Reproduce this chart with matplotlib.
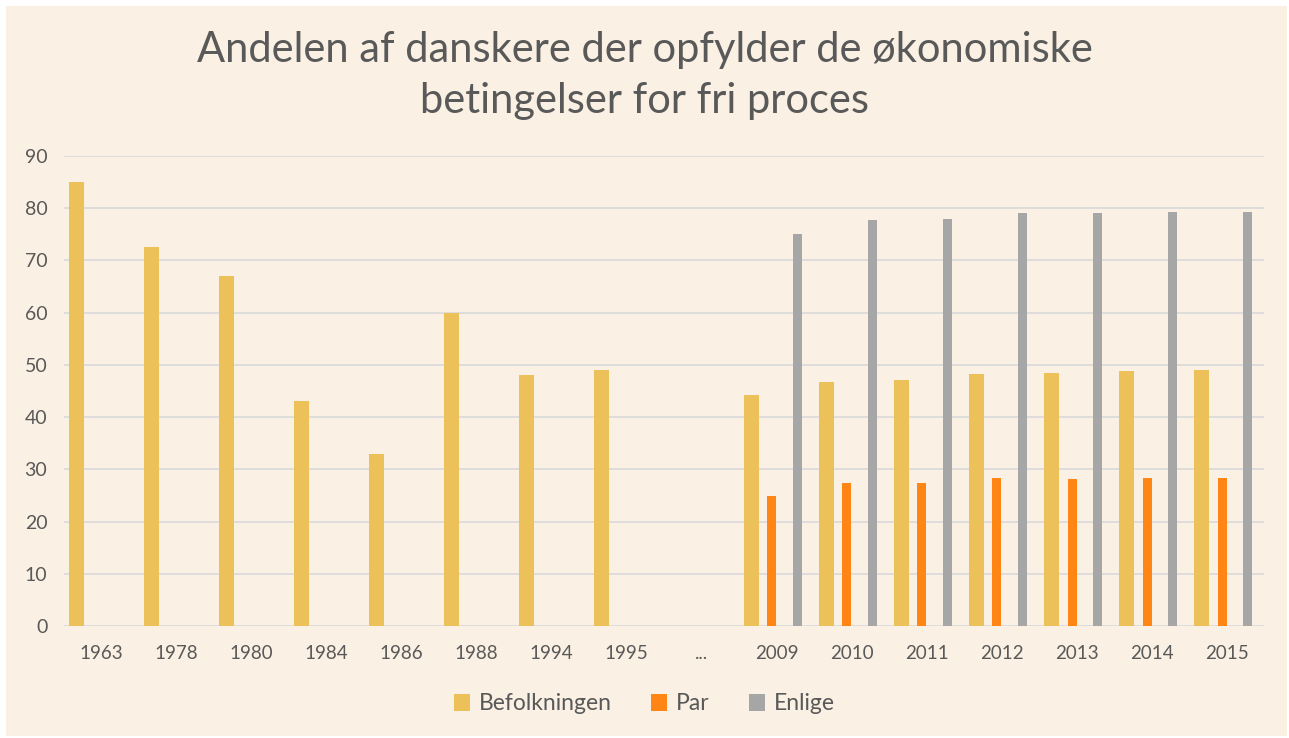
import numpy as np
import matplotlib
matplotlib.use("Agg")
import matplotlib.pyplot as plt
from matplotlib.patches import Rectangle

plt.rcParams['font.family'] = ['Lato', 'DejaVu Sans']

years = ['1963', '1978', '1980', '1984', '1986', '1988', '1994', '1995', '...',
         '2009', '2010', '2011', '2012', '2013', '2014', '2015']
befolkningen = [85, 72.6, 67, 43, 33, 60, 48, 49, 0,
                44.3, 46.8, 47.2, 48.2, 48.4, 48.8, 49.0]
par = [0, 0, 0, 0, 0, 0, 0, 0, 0,
       24.9, 27.3, 27.3, 28.4, 28.2, 28.4, 28.4]
enlige = [0, 0, 0, 0, 0, 0, 0, 0, 0,
          75.1, 77.7, 78.0, 79.1, 79.1, 79.3, 79.3]

bg = '#FAF0E3'
txt = '#595959'

fig = plt.figure(figsize=(12.89, 7.38), dpi=100, facecolor='white')
fig.patches.append(Rectangle((6 / 1289, 2 / 738), 1281 / 1289, 730 / 738,
                             transform=fig.transFigure, facecolor=bg,
                             edgecolor='none', zorder=-10))
ax = fig.add_axes([64 / 1289, 1 - 626 / 738, 1200 / 1289, 470 / 738])
ax.set_facecolor(bg)

x = np.arange(len(years))
ax.bar(x - 0.34, befolkningen, width=0.2, color='#EDC15A', label='Befolkningen', zorder=3)
ax.bar(x - 0.06, par, width=0.12, color='#FF8514', label='Par', zorder=3)
ax.bar(x + 0.28, enlige, width=0.115, color='#A6A6A6', label='Enlige', zorder=3)

ax.set_xlim(-0.5, len(years) - 0.5)
ax.set_ylim(0, 90)
ax.set_yticks(range(0, 91, 10))
ax.set_xticks(x)
ax.set_xticklabels(years)
ax.grid(axis='y', color='#DCDCDC', linewidth=1.3, zorder=0)
for s in ax.spines.values():
    s.set_visible(False)
ax.tick_params(axis='both', length=0, colors=txt)
ax.tick_params(axis='y', labelsize=14, pad=12)
ax.tick_params(axis='x', labelsize=13.5, pad=14)

fig.text(0.5, 1 - 50 / 738, 'Andelen af danskere der opfylder de økonomiske',
         ha='center', va='center', fontsize=30, color=txt)
fig.text(0.5, 1 - 101 / 738, 'betingelser for fri proces',
         ha='center', va='center', fontsize=30, color=txt)

fig.legend(loc='center', bbox_to_anchor=(0.5, 1 - 704 / 738), ncol=3, frameon=False,
           fontsize=16.5, labelcolor=txt, handlelength=0.7, handleheight=0.7,
           handletextpad=0.4, columnspacing=1.7)

fig.savefig('out.png', dpi=100, facecolor=fig.get_facecolor())
